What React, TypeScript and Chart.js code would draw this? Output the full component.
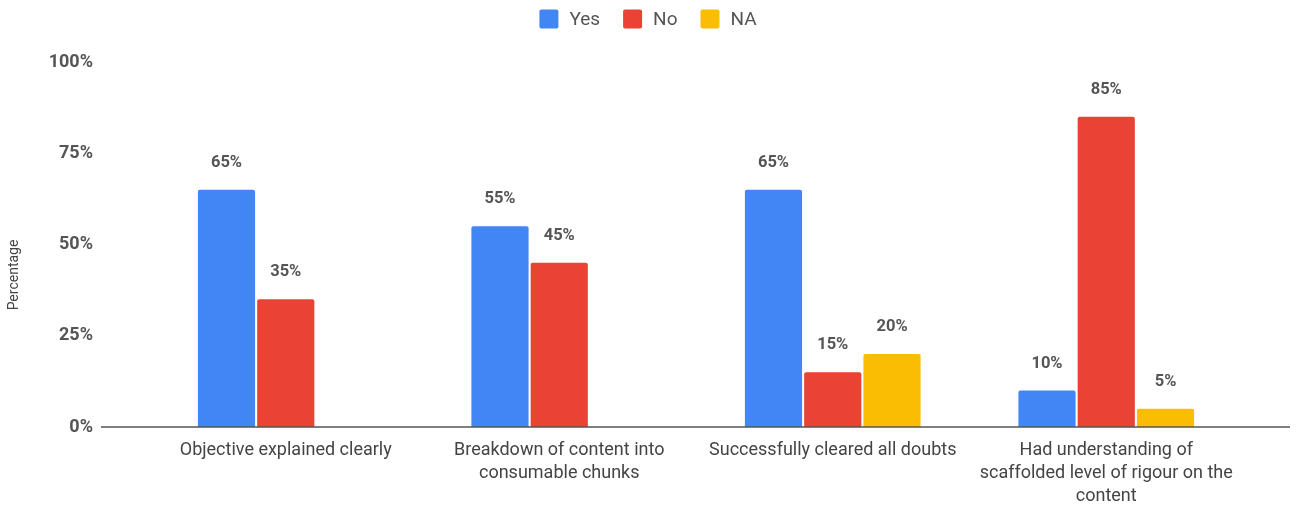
import React, { useEffect, useRef } from "react";
import { Chart, registerables } from "chart.js";

Chart.register(...registerables);

const categories: string[][] = [
  ["Objective explained clearly"],
  ["Breakdown of content into", "consumable chunks"],
  ["Successfully cleared all doubts"],
  ["Had understanding of", "scaffolded level of rigour on the", "content"],
];
const seriesNames = ["Yes", "No", "NA"];
const yesValues = [65, 55, 65, 10];
const noValues = [35, 45, 15, 85];
const naValues: (number | null)[] = [null, null, 20, 5];
const yTicks = [0, 25, 50, 75, 100];
const yTitle = "Percentage";
const colors = ["#4285F4", "#EA4335", "#FBBC04"];

const FONT = "Roboto, 'Noto Sans', sans-serif";
const PLOT_TOP = 62;

const plotTopPlugin = {
  id: "plotTop",
  afterLayout(chart: any) {
    const y = chart.scales.y;
    if (!y) return;
    y.top = PLOT_TOP;
    y.height = y.bottom - y.top;
    chart.chartArea.top = PLOT_TOP;
    chart.chartArea.height = chart.chartArea.bottom - PLOT_TOP;
    if (y.configure) y.configure();
  },
};

const legendPlugin = {
  id: "customLegend",
  afterDraw(chart: any) {
    const ctx = chart.ctx;
    ctx.save();
    ctx.font = `19px ${FONT}`;
    const box = 19;
    const gap = 11;
    const spacing = 23;
    const items = chart.data.datasets.map((ds: any) => ({
      label: ds.label,
      color: ds.backgroundColor,
      w: box + gap + ctx.measureText(ds.label).width,
    }));
    const total = items.reduce((a: number, it: any) => a + it.w, 0) + spacing * (items.length - 1);
    let x = chart.width / 2 - total / 2;
    const cy = 19;
    ctx.textBaseline = "middle";
    ctx.textAlign = "left";
    items.forEach((it: any) => {
      ctx.fillStyle = it.color;
      ctx.beginPath();
      (ctx as any).roundRect ? ctx.roundRect(x, cy - box / 2, box, box, 2) : ctx.rect(x, cy - box / 2, box, box);
      ctx.fill();
      ctx.fillStyle = "#555555";
      ctx.fillText(it.label, x + box + gap, cy + 1);
      x += it.w + spacing;
    });
    ctx.restore();
  },
};

const axisLinePlugin = {
  id: "axisLine",
  afterDatasetsDraw(chart: any) {
    const y = chart.scales.y.getPixelForValue(0);
    const ctx = chart.ctx;
    ctx.save();
    ctx.strokeStyle = "#555555";
    ctx.lineWidth = 1.5;
    ctx.beginPath();
    ctx.moveTo(101, y);
    ctx.lineTo(1290, y);
    ctx.stroke();
    ctx.restore();
  },
};

const yTitlePlugin = {
  id: "yTitle",
  afterDraw(chart: any) {
    const ctx = chart.ctx;
    ctx.save();
    ctx.translate(14, 275);
    ctx.rotate(-Math.PI / 2);
    ctx.font = `14px ${FONT}`;
    ctx.fillStyle = "#444444";
    ctx.textAlign = "center";
    ctx.textBaseline = "middle";
    ctx.fillText(yTitle, 0, 0);
    ctx.restore();
  },
};

const dataLabelPlugin = {
  id: "dataLabels",
  afterDatasetsDraw(chart: any) {
    const ctx = chart.ctx;
    ctx.save();
    ctx.font = `bold 16.5px ${FONT}`;
    ctx.fillStyle = "#555555";
    ctx.textAlign = "center";
    ctx.textBaseline = "middle";
    chart.data.datasets.forEach((ds: any, i: number) => {
      const meta = chart.getDatasetMeta(i);
      meta.data.forEach((bar: any, j: number) => {
        const v = ds.data[j];
        if (v === null || v === undefined) return;
        ctx.fillText(`${v}%`, bar.x, bar.y - 27);
      });
    });
    ctx.restore();
  },
};

export default function App() {
  const ref = useRef<HTMLCanvasElement>(null);
  useEffect(() => {
    if (!ref.current) return;
    const chart = new Chart(ref.current, {
      type: "bar",
      data: {
        labels: categories as any,
        datasets: [yesValues, noValues, naValues].map((d, i) => ({
          label: seriesNames[i],
          data: d as any,
          backgroundColor: colors[i],
          borderRadius: 2,
          barPercentage: 0.965,
          categoryPercentage: 0.65,
        })),
      },
      options: {
        animation: false,
        responsive: false,
        maintainAspectRatio: false,
        layout: { padding: { left: 0, right: 53, top: 58, bottom: 0 } },
        plugins: {
          legend: { display: false },
          tooltip: { enabled: false },
        },
        scales: {
          x: {
            grid: { display: false, drawTicks: false },
            border: { display: false },
            ticks: {
              color: "#444444",
              padding: 12,
              maxRotation: 0,
              autoSkip: false,
              font: { family: FONT, size: 18, lineHeight: 1.27 },
            },
            afterFit: (s: any) => {
              s.height = 79;
            },
          },
          y: {
            min: 0,
            max: 100,
            afterBuildTicks: (s: any) => {
              s.ticks = yTicks.map((v) => ({ value: v }));
            },
            grid: { display: false, drawTicks: false },
            border: { display: false },
            ticks: {
              color: "#555555",
              padding: 56,
              font: { family: FONT, size: 18, weight: "bold" },
              callback: (v: any) => `${v}%`,
            },
            afterFit: (s: any) => {
              s.width = 149;
            },
          },
        },
      },
      plugins: [plotTopPlugin, axisLinePlugin, dataLabelPlugin, yTitlePlugin, legendPlugin],
    });
    return () => chart.destroy();
  }, []);
  return (
    <div style={{ position: "fixed", left: 0, top: 0, width: 1296, height: 506, background: "#fff" }}>
      <canvas ref={ref} width={1296} height={506} style={{ display: "block" }} />
    </div>
  );
}
